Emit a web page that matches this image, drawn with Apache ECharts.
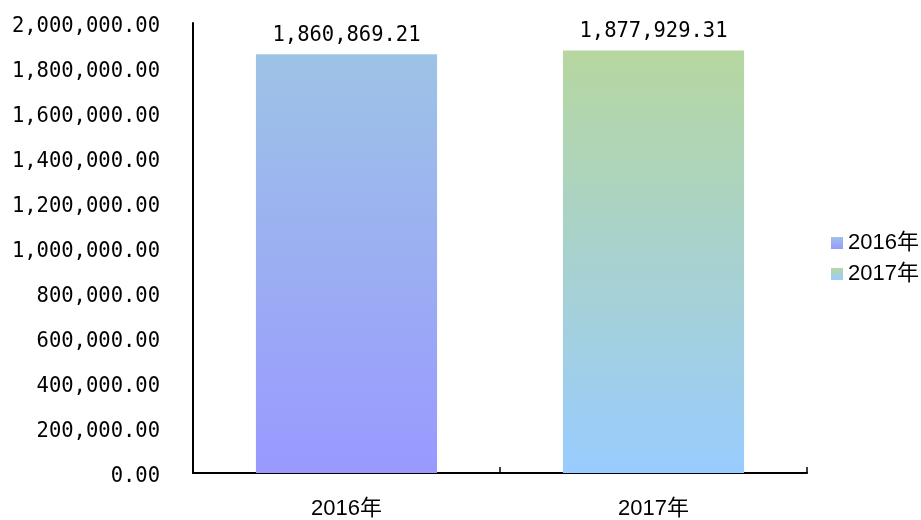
<!DOCTYPE html>
<html>
<head>
<meta charset="utf-8">
<script src="https://cdn.jsdelivr.net/npm/echarts@6/dist/echarts.min.js"></script>
<style>html,body{margin:0;padding:0;background:#fff;}#c{width:921px;height:520px;}</style>
</head>
<body>
<div id="c"></div>
<script>
var categories = ['2016年', '2017年'];
var seriesNames = ['2016年', '2017年'];
var values = [1860869.21, 1877929.31];
var yMin = 0, yMax = 2000000, yStep = 200000;

function fmt(v) {
  return Number(v).toLocaleString('en-US', {minimumFractionDigits: 2, maximumFractionDigits: 2});
}
var gradients = [
  new echarts.graphic.LinearGradient(0, 0, 0, 1, [{offset: 0, color: '#9dc3e6'}, {offset: 1, color: '#9999ff'}]),
  new echarts.graphic.LinearGradient(0, 0, 0, 1, [{offset: 0, color: '#b6d7a0'}, {offset: 1, color: '#99ccff'}])
];
var monoFont = '"DejaVu Sans Mono", monospace';
var sansFont = '"Liberation Sans", "Noto Sans CJK SC", sans-serif';
var series = seriesNames.map(function (name, i) {
  var d = categories.map(function (c, j) { return j === i ? values[j] : '-'; });
  return {
    name: name,
    type: 'bar',
    data: d,
    barWidth: '59%',
    barGap: '-100%',
    itemStyle: {color: gradients[i]},
    label: {
      show: true, position: 'top', distance: 8,
      color: '#000', fontFamily: monoFont, fontSize: 20.5,
      formatter: function (p) { return fmt(p.value); }
    }
  };
});
var chart = echarts.init(document.getElementById('c'));
chart.setOption({
  animation: false,
  backgroundColor: '#fff',
  grid: {left: 193, right: 114, top: 23, bottom: 45, containLabel: false},
  legend: {
    orient: 'vertical', left: 826, top: 227,
    itemWidth: 12, itemHeight: 12, itemGap: 9,
    icon: 'rect',
    textStyle: {color: '#000', fontSize: 22, fontFamily: sansFont},
    data: seriesNames
  },
  xAxis: {
    type: 'category', data: categories,
    axisLine: {lineStyle: {color: '#000', width: 2}},
    axisTick: {show: true, inside: true, length: 6, interval: 0, lineStyle: {color: '#000', width: 1.5}},
    axisLabel: {color: '#000', fontSize: 22, margin: 25, fontFamily: sansFont}
  },
  yAxis: {
    type: 'value', min: yMin, max: yMax, interval: yStep,
    axisLine: {show: true, lineStyle: {color: '#000', width: 2}},
    axisTick: {show: false},
    splitLine: {show: false},
    axisLabel: {color: '#000', fontSize: 20.5, margin: 33, verticalAlign: 'top', lineHeight: 8, fontFamily: monoFont, formatter: fmt}
  },
  series: series
});
</script>
</body>
</html>
